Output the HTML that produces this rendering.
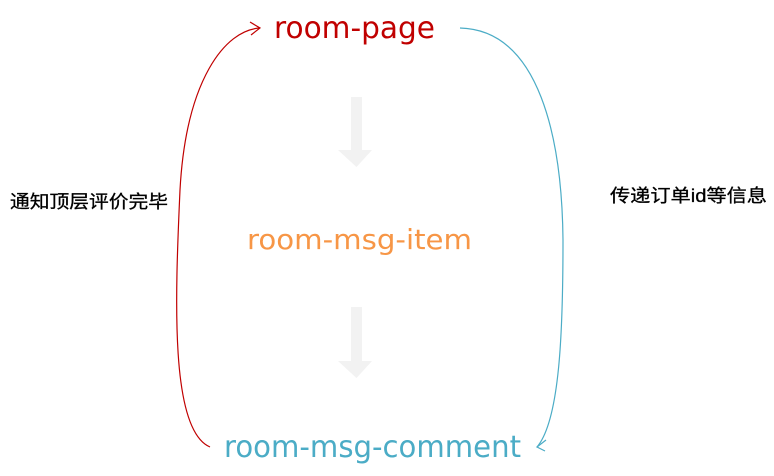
<!DOCTYPE html>
<html><head><meta charset="utf-8"><style>
html,body{margin:0;padding:0;background:#fff;width:774px;height:476px;overflow:hidden}
svg{display:block}
</style></head><body>
<svg width="774" height="476" viewBox="0 0 774 476" xmlns="http://www.w3.org/2000/svg">
<polygon points="351,97 362,97 362,150 372,150 356.5,167 338,150 351,150" fill="#f2f2f2"/>
<polygon points="351,307 362,307 362,361 372,361 356.5,378 338,361 351,361" fill="#f2f2f2"/>
<path d="M210,447 C170,430 175,300 180,190 C186,80 225,30 260,28" fill="none" stroke="#c00000" stroke-width="1.2"/>
<path d="M250,22 L260,28 L251,35" fill="none" stroke="#c00000" stroke-width="1.2"/>
<path d="M460,28 C540,30 562,140 563,240 C563,330 560,420 537,447" fill="none" stroke="#4bacc6" stroke-width="1.2"/>
<path d="M546,440 L537,447 L545,451" fill="none" stroke="#4bacc6" stroke-width="1.2"/>
<g font-family="'DejaVu Sans','Liberation Sans',sans-serif">
<text x="274" y="38" font-size="30" fill="#c00000" textLength="161" lengthAdjust="spacingAndGlyphs">room-page</text>
<text x="247" y="249" font-size="28" fill="#f79646" textLength="225" lengthAdjust="spacingAndGlyphs">room-msg-item</text>
<text x="224" y="457" font-size="30" fill="#4bacc6" textLength="297" lengthAdjust="spacingAndGlyphs">room-msg-comment</text>
</g>
<g font-family="'Liberation Sans','Noto Sans CJK SC',sans-serif" font-size="18" fill="#000" stroke="#000" stroke-width="0.3">
<text x="10" y="208" textLength="158" lengthAdjust="spacingAndGlyphs">通知顶层评价完毕</text>
<text x="610" y="202" textLength="157" lengthAdjust="spacingAndGlyphs">传递订单id等信息</text>
</g>
</svg>
</body></html>
